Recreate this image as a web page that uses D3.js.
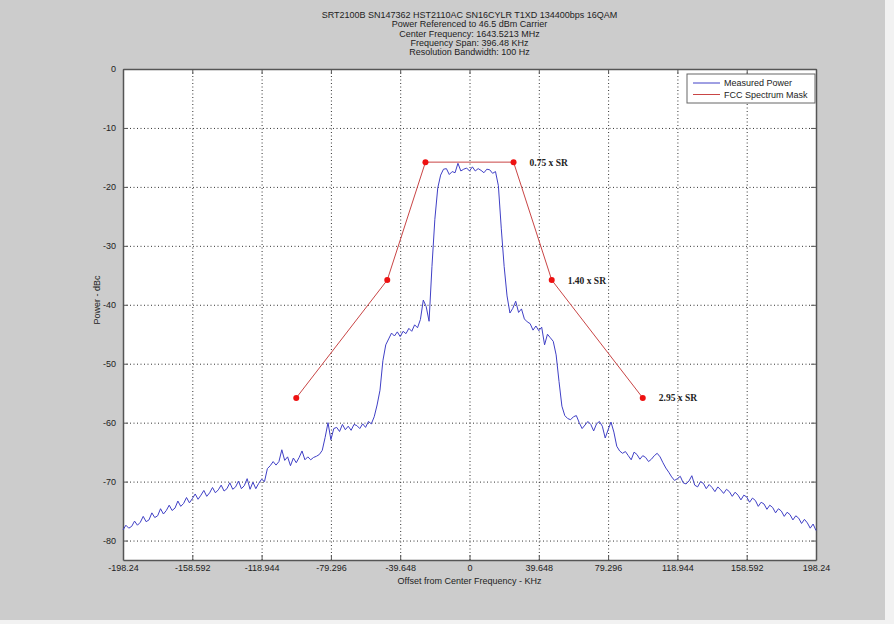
<!DOCTYPE html>
<html><head><meta charset="utf-8">
<script src="https://cdn.jsdelivr.net/npm/d3@7"></script>
<style>
html,body{margin:0;padding:0;background:#cccccc;}
svg{display:block;}
text{font-family:"Liberation Sans",Arial,sans-serif;fill:#222;}
</style></head>
<body>
<script>
// ---------------- data ----------------
const titleLines = [
  "SRT2100B SN147362 HST2110AC SN16CYLR T1XD 134400bps 16QAM",
  "Power Referenced to 46.5 dBm Carrier",
  "Center Frequency: 1643.5213 MHz",
  "Frequency Span: 396.48 KHz",
  "Resolution Bandwidth: 100 Hz"
];
const xLabel = "Offset from Center Frequency - KHz";
const yLabel = "Power - dBc";
const xTicks = [-198.24, -158.592, -118.944, -79.296, -39.648, 0, 39.648, 79.296, 118.944, 158.592, 198.24];
const xTickLabels = ["-198.24","-158.592","-118.944","-79.296","-39.648","0","39.648","79.296","118.944","158.592","198.24"];
const yTicks = [0, -10, -20, -30, -40, -50, -60, -70, -80];
const yTickLabels = ["0","-10","-20","-30","-40","-50","-60","-70","-80"];
const seriesNames = ["Measured Power", "FCC Spectrum Mask"];

// measured spectrum: uniform sweep from -198.24 kHz, step 1.652 kHz (241 bins)
const sweepStart = -198.24;
const sweepStep = 1.652;
const measuredPower = [
  -78.2,-77.4,-77.9,-77.6,-76.7,-77.4,-76.9,-75.9,-76.8,-76.5,
  -75.3,-76.1,-75.8,-74.6,-75.5,-74.9,-74.0,-74.9,-74.5,-73.3,
  -74.2,-73.7,-72.7,-73.6,-72.9,-72.1,-73.0,-72.3,-71.5,-72.5,
  -71.9,-71.0,-71.9,-71.4,-70.6,-71.6,-71.2,-70.2,-71.3,-70.9,
  -69.9,-71.2,-70.7,-69.5,-71.3,-70.1,-71.2,-70.3,-69.6,-70.0,
  -67.8,-67.3,-66.6,-67.2,-66.6,-64.6,-66.4,-65.8,-67.3,-66.0,
  -66.8,-65.9,-64.8,-66.3,-65.8,-66.3,-65.9,-65.7,-65.4,-64.7,
  -62.5,-60.0,-62.9,-61.0,-60.8,-61.5,-60.3,-61.2,-60.6,-61.3,
  -60.3,-60.5,-61.0,-60.2,-60.8,-59.8,-60.2,-59.0,-57.0,-54.5,
  -49.5,-46.8,-45.8,-44.8,-45.3,-44.6,-45.4,-44.5,-44.9,-44.0,
  -44.5,-43.4,-43.9,-42.5,-39.2,-40.3,-42.8,-33.5,-25.5,-20.2,
  -18.0,-17.0,-16.9,-17.9,-17.4,-17.6,-16.0,-17.3,-17.0,-16.8,
  -17.3,-16.6,-17.3,-16.9,-17.2,-17.6,-17.0,-17.1,-17.7,-17.4,
  -19.8,-27.0,-33.5,-38.5,-41.4,-40.6,-39.4,-41.3,-40.7,-42.4,
  -42.9,-43.2,-44.3,-43.6,-44.4,-43.8,-46.8,-45.0,-45.6,-46.2,
  -48.5,-53.0,-57.2,-58.8,-59.3,-59.5,-59.0,-58.8,-60.0,-61.0,
  -60.4,-59.8,-60.3,-61.4,-60.2,-59.8,-60.6,-62.6,-61.2,-59.9,
  -61.6,-64.0,-64.8,-65.2,-64.9,-65.6,-66.3,-65.0,-65.4,-66.2,
  -65.6,-65.9,-66.6,-66.2,-65.6,-65.2,-65.8,-66.8,-67.7,-68.4,
  -69.2,-69.8,-69.5,-69.1,-70.2,-70.4,-69.9,-69.0,-70.6,-70.9,
  -70.0,-70.3,-71.2,-70.5,-71.0,-71.7,-70.9,-71.4,-72.0,-71.3,
  -71.7,-72.5,-71.8,-72.3,-73.1,-72.3,-72.6,-73.5,-72.8,-73.2,
  -74.2,-73.5,-73.8,-74.7,-74.0,-74.4,-75.3,-74.6,-75.0,-75.9,
  -75.2,-75.6,-76.5,-75.8,-76.2,-77.1,-76.4,-77.0,-77.9,-77.2,
  -78.3
];

// FCC mask break points
const maskFreq = [-99.12, -47.04, -25.2, 25.2, 47.04, 99.12];
const maskPower = [-55.8, -35.8, -15.8, -15.8, -35.8, -55.8];
const maskLabels = ["", "", "", "0.75 x SR", "1.40 x SR", "2.95 x SR"];

// ---------------- drawing ----------------
const W = 894, H = 624;
const L = 123, R = 816, T = 69, B = 560;
const svg = d3.select("body").append("svg").attr("width", W).attr("height", H);
svg.append("rect").attr("width", W).attr("height", H).attr("fill", "#cccccc");
svg.append("rect").attr("x", 885).attr("y", 0).attr("width", W - 885).attr("height", H).attr("fill", "#f2f2f2");
svg.append("rect").attr("x", 0).attr("y", 620).attr("width", W).attr("height", H - 620).attr("fill", "#f2f2f2");

const x = d3.scaleLinear().domain([-198.24, 198.24]).range([L, R]);
const y = d3.scaleLinear().domain([-83.3, 0]).range([B, T]);

svg.append("rect").attr("x", L).attr("y", T).attr("width", R - L).attr("height", B - T).attr("fill", "#fff");

// grid
const gridX = svg.append("g").attr("transform", `translate(0,${B})`)
  .call(d3.axisBottom(x).tickValues(xTicks).tickSize(-(B - T)).tickFormat(""));
gridX.select(".domain").remove();
gridX.selectAll("line").attr("stroke", "#333").attr("stroke-dasharray", "1,2.5").attr("stroke-width", 1);
const gridY = svg.append("g").attr("transform", `translate(${L},0)`)
  .call(d3.axisLeft(y).tickValues(yTicks).tickSize(-(R - L)).tickFormat(""));
gridY.select(".domain").remove();
gridY.selectAll("line").attr("stroke", "#333").attr("stroke-dasharray", "1,2.5").attr("stroke-width", 1);

// axes with inward ticks
function styleAxis(g) {
  g.select(".domain").attr("stroke", "#555").attr("stroke-width", 1.5);
  g.selectAll(".tick line").attr("stroke", "#555");
  g.selectAll("text").attr("fill", "#333").style("font-size", "9px")
    .style("font-family", "'Liberation Sans',Arial,sans-serif");
}
const xAxis = svg.append("g").attr("transform", `translate(0,${B})`)
  .call(d3.axisBottom(x).tickValues(xTicks).tickSizeInner(-5).tickSizeOuter(0).tickPadding(10)
    .tickFormat((d, i) => xTickLabels[i]));
styleAxis(xAxis);
xAxis.selectAll("text").attr("y", 5);
const xAxisTop = svg.append("g").attr("transform", `translate(0,${T})`)
  .call(d3.axisTop(x).tickValues(xTicks).tickSizeInner(-5).tickSizeOuter(0).tickFormat(""));
styleAxis(xAxisTop);
const yAxis = svg.append("g").attr("transform", `translate(${L},0)`)
  .call(d3.axisLeft(y).tickValues(yTicks).tickSizeInner(-5).tickSizeOuter(0).tickPadding(7)
    .tickFormat((d, i) => yTickLabels[i]));
styleAxis(yAxis);
yAxis.selectAll("text").attr("x", -7);
const yAxisRight = svg.append("g").attr("transform", `translate(${R},0)`)
  .call(d3.axisRight(y).tickValues(yTicks).tickSizeInner(-5).tickSizeOuter(0).tickFormat(""));
styleAxis(yAxisRight);

// measured power trace
const line = d3.line().x((d, i) => x(sweepStart + i * sweepStep)).y(d => y(d));
svg.append("path").datum(measuredPower).attr("d", line)
  .attr("fill", "none").attr("stroke", "#4040c6").attr("stroke-width", 1);

// mask
const maskData = maskFreq.map((f, i) => ({ f, p: maskPower[i], label: maskLabels[i] }));
svg.append("path").datum(maskData)
  .attr("d", d3.line().x(d => x(d.f)).y(d => y(d.p)))
  .attr("fill", "none").attr("stroke", "#c94545").attr("stroke-width", 1);
svg.selectAll(".mdot").data(maskData).enter().append("circle")
  .attr("cx", d => x(d.f)).attr("cy", d => y(d.p)).attr("r", 3).attr("fill", "#ee1111");
svg.selectAll(".mlab").data(maskData.filter(d => d.label)).enter().append("text")
  .attr("x", d => x(d.f) + 16).attr("y", d => y(d.p) + 3.5)
  .style("font-family", "'Liberation Serif','Times New Roman',serif")
  .style("font-weight", "bold").style("font-size", "9.5px").attr("fill", "#222")
  .text(d => d.label);

// title
svg.append("g").selectAll("text").data(titleLines).enter().append("text")
  .attr("x", (L + R) / 2).attr("y", (d, i) => 18 + i * 9.3)
  .attr("text-anchor", "middle").style("font-size", "9px").text(d => d);

// axis labels
svg.append("text").attr("x", (L + R) / 2).attr("y", 584).attr("text-anchor", "middle")
  .style("font-size", "9px").text(xLabel);
svg.append("text").attr("transform", `translate(100,300) rotate(-90)`).attr("text-anchor", "middle")
  .style("font-size", "9px").text(yLabel);

// legend
const lg = svg.append("g");
lg.append("rect").attr("x", 687).attr("y", 74).attr("width", 128).attr("height", 29)
  .attr("fill", "#fff").attr("stroke", "#666").attr("stroke-width", 1);
const legColors = ["#4040c6", "#c94545"];
seriesNames.forEach((n, i) => {
  const yy = 83 + i * 11.5;
  lg.append("line").attr("x1", 693).attr("x2", 720).attr("y1", yy).attr("y2", yy)
    .attr("stroke", legColors[i]).attr("stroke-width", 1);
  lg.append("text").attr("x", 724).attr("y", yy + 3).style("font-size", "9px").text(n);
});
</script>
</body></html>
